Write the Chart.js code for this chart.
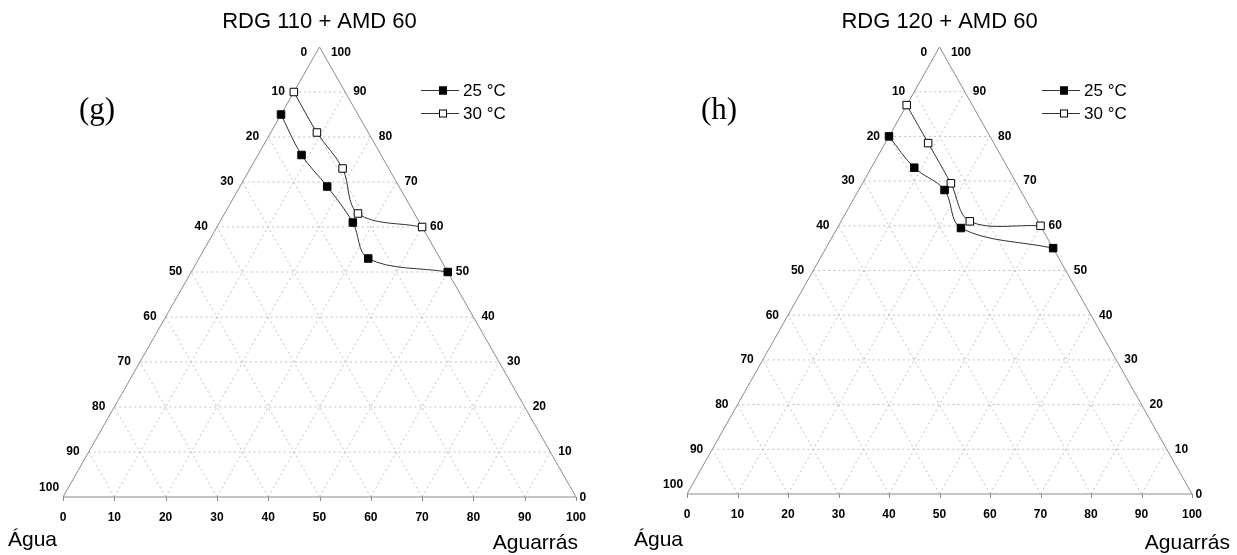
<!DOCTYPE html>
<html><head><meta charset="utf-8">
<script src="https://cdn.jsdelivr.net/npm/chart.js@4.4.1/dist/chart.umd.min.js"></script>
<style>
html,body{margin:0;padding:0;background:#fff;width:1237px;height:555px;overflow:hidden}
.box{position:absolute;top:0;height:555px}
</style></head><body>
<div class="box" style="left:0;width:618px"><canvas id="cg" width="618" height="555"></canvas></div>
<div class="box" style="left:618px;width:619px"><canvas id="ch" width="619" height="555"></canvas></div>
<script>
// ---- data (ternary: oil = Aguarrás %, surf = surfactant % at apex) ----
const bottomTicks = [0,10,20,30,40,50,60,70,80,90,100];
const leftTicks   = [0,10,20,30,40,50,60,70,80,90,100];
const rightTicks  = [0,10,20,30,40,50,60,70,80,90,100];
const gridLevels  = [10,20,30,40,50,60,70,80,90];
const seriesLabels = ['25 °C','30 °C'];

const titleG = 'RDG 110 + AMD 60';
const oil25G  = [0, 8.5, 17, 26, 33, 50];
const surf25G = [85, 76, 69, 61, 53, 50];
const oil30G  = [0, 9, 18, 26, 40];
const surf30G = [90, 81, 73, 63, 60];

const titleH = 'RDG 120 + AMD 60';
const oil25H  = [0, 8.5, 17, 24.5, 45];
const surf25H = [80, 73, 68, 59.5, 55];
const oil30H  = [0, 8.5, 17.5, 25.5, 40];
const surf30H = [87, 78.5, 69.5, 61, 60];

const toXY = (oil, surf) => ({x: oil + surf / 2, y: surf});
const pts = (oil, surf) => oil.map((o, i) => toXY(o, surf[i]));

function gridDatasets() {
  const ds = [];
  const style = () => ({borderColor:'#c0c0c0', borderWidth:1, borderDash:[2,3], pointRadius:0, showLine:true, order:10, clip:false, tension:0});
  gridLevels.forEach(v => {
    // constant surfactant (horizontal)
    ds.push(Object.assign({data:[toXY(0, v), toXY(100 - v, v)]}, style()));
    // constant oil
    ds.push(Object.assign({data:[toXY(v, 0), toXY(v, 100 - v)]}, style()));
    // constant water
    ds.push(Object.assign({data:[toXY(100 - v, 0), toXY(0, 100 - v)]}, style()));
  });
  ds.push({data:[toXY(0,0), toXY(100,0), toXY(0,100), toXY(0,0)], borderColor:'#8a8a8a', borderWidth:1, pointRadius:0, showLine:true, order:5, clip:false, tension:0});
  return ds;
}

const ternaryText = {
  id: 'ternaryText',
  afterDraw(chart, args, o) {
    const {ctx} = chart;
    const xs = chart.scales.x, ys = chart.scales.y;
    const px = (oil, surf) => [xs.getPixelForValue(oil + surf / 2), ys.getPixelForValue(surf)];
    ctx.save();
    // bottom tick marks
    ctx.strokeStyle = '#8a8a8a'; ctx.lineWidth = 1;
    bottomTicks.forEach(v => {
      const [X, Y] = px(v, 0);
      ctx.beginPath(); ctx.moveTo(Math.round(X) + 0.5, Y); ctx.lineTo(Math.round(X) + 0.5, Y + 4); ctx.stroke();
    });
    ctx.fillStyle = '#000';
    ctx.font = 'bold 12px "Liberation Sans", Arial, sans-serif';
    ctx.textAlign = 'center'; ctx.textBaseline = 'middle';
    bottomTicks.forEach(v => { const [X, Y] = px(v, 0); ctx.fillText(String(v), X, Y + 21); });
    // left side labels
    ctx.textAlign = 'right';
    leftTicks.forEach(v => {
      const s = 100 - v;
      const Y = ys.getPixelForValue(s) + (s === 100 ? 6 : (s === 0 ? -9 : 0));
      const Xe = xs.getPixelForValue(ys.getValueForPixel(Y) / 2);
      ctx.fillText(String(v), Xe - 9, Y);
    });
    // right side labels
    ctx.textAlign = 'left';
    rightTicks.forEach(v => {
      const s = v;
      const Y = ys.getPixelForValue(s) + (s === 100 ? 6 : (s === 0 ? 1 : 0));
      const Xe = xs.getPixelForValue(100 - ys.getValueForPixel(Y) / 2);
      ctx.fillText(String(v), Xe + (s === 0 ? 3 : 8), Y);
    });
    // title
    ctx.textAlign = 'center';
    ctx.font = '22px "Liberation Sans", Arial, sans-serif';
    ctx.fillText(o.title, xs.getPixelForValue(50), 22);
    // panel letter
    ctx.font = '31px "Liberation Serif", "Times New Roman", serif';
    ctx.fillText(o.letter, o.letterX, 111);
    // axis names
    ctx.font = '21px "Liberation Sans", Arial, sans-serif';
    ctx.textAlign = 'left';
    ctx.fillText('Água', o.aguaX, 540);
    ctx.textAlign = 'right';
    ctx.fillText('Aguarrás', o.aguarrasX, 543);
    // legend
    const fills = ['#000', '#fff'];
    ctx.font = '17px "Liberation Sans", Arial, sans-serif';
    ctx.textAlign = 'left';
    seriesLabels.forEach((lab, i) => {
      const yy = 90 + i * 23;
      ctx.strokeStyle = '#333'; ctx.lineWidth = 1;
      ctx.beginPath(); ctx.moveTo(o.legX, yy + 0.5); ctx.lineTo(o.legX + 38, yy + 0.5); ctx.stroke();
      ctx.fillStyle = fills[i]; ctx.strokeStyle = '#000';
      ctx.fillRect(o.legX + 18, yy - 3.5, 8, 8);
      ctx.strokeRect(o.legX + 18.5, yy - 3, 7, 7);
      ctx.fillStyle = '#000';
      ctx.fillText(lab, o.legX + 42, yy + 1);
    });
    ctx.restore();
  }
};

function makeChart(id, pad, opts, d25, d30) {
  const series = [
    {label: seriesLabels[0], data: d25, showLine:true, borderColor:'#333', borderWidth:1, tension:0.35,
     pointStyle:'rect', pointRadius:5.3, pointBackgroundColor:'#000', pointBorderColor:'#000', pointBorderWidth:1, order:0, clip:false},
    {label: seriesLabels[1], data: d30, showLine:true, borderColor:'#333', borderWidth:1, tension:0.35,
     pointStyle:'rect', pointRadius:5.3, pointBackgroundColor:'#fff', pointBorderColor:'#000', pointBorderWidth:1, order:0, clip:false}
  ];
  return new Chart(document.getElementById(id), {
    type: 'scatter',
    data: {datasets: series.concat(gridDatasets())},
    options: {
      responsive: false, animation: false,
      layout: {padding: pad},
      scales: {
        x: {type:'linear', min:0, max:100, display:false},
        y: {type:'linear', min:0, max:100, display:false}
      },
      plugins: {legend:{display:false}, tooltip:{enabled:false}, ternaryText: opts}
    },
    plugins: [ternaryText]
  });
}

makeChart('cg', {left:63, right:42, top:47, bottom:58},
  {title:titleG, letter:'(g)', letterX:97, legX:421, aguaX:8, aguarrasX:578},
  pts(oil25G, surf25G), pts(oil30G, surf30G));
makeChart('ch', {left:69, right:45, top:47, bottom:61},
  {title:titleH, letter:'(h)', letterX:101, legX:424, aguaX:16, aguarrasX:612},
  pts(oil25H, surf25H), pts(oil30H, surf30H));
</script>
</body></html>
